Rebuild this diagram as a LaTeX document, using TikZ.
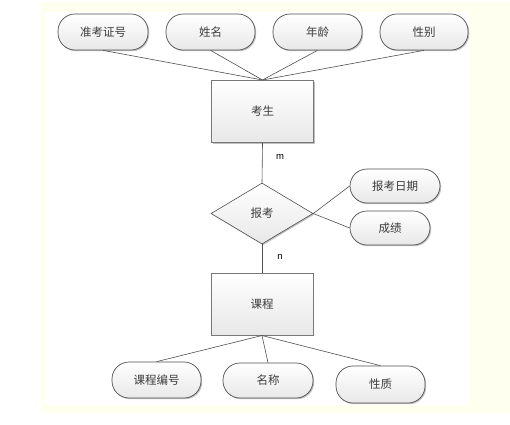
\documentclass[tikz,border=0pt]{standalone}
\usepackage{fontspec}
\newfontfamily\cjk{Noto Sans CJK SC}
\newfontfamily\lat{Liberation Sans}
\usetikzlibrary{shapes.geometric,shadows}
\definecolor{bgyel}{RGB}{255,255,240}
\definecolor{txt}{RGB}{60,60,60}
\definecolor{edge}{RGB}{80,80,80}
\definecolor{boxedge}{RGB}{120,120,120}
\tikzset{
  shp/.style={top color=white,bottom color=black!9,text=txt,font=\cjk\fontsize{11.5}{13}\selectfont,
    drop shadow={shadow xshift=1.2pt,shadow yshift=-1.2pt,opacity=0.25,fill=black},inner sep=0pt},
  attr/.style={shp,draw=edge,line width=0.7pt,rectangle,rounded corners=17pt,minimum height=35pt},
  ent/.style={shp,draw=boxedge,line width=1pt,rectangle,minimum width=102pt,minimum height=62pt},
  rel/.style={shp,draw=edge,line width=0.6pt,diamond,minimum width=102pt,minimum height=61pt,aspect=1.67},
  conn/.style={draw=edge,line width=0.6pt},
  card/.style={text=black,font=\lat\fontsize{9.5}{11}\selectfont,inner sep=0pt}
}
\begin{document}
\begin{tikzpicture}[x=1pt,y=-1pt]
\useasboundingbox (0,0) rectangle (510,424);
\fill[bgyel] (41,2) rectangle (510,413);
\fill[white] (45,12) rectangle (469,405);
% attributes top
\node[attr,minimum width=90pt,minimum height=36pt] (a1) at (103,32) {准考证号};
\node[attr,minimum width=89pt,minimum height=36pt] (a2) at (210.5,32) {姓名};
\node[attr,minimum width=89pt,minimum height=36pt] (a3) at (317.5,32) {年龄};
\node[attr,minimum width=88pt,minimum height=36pt] (a4) at (424,32) {性别};
% entities
\node[ent] (e1) at (262.5,111.5) {考生};
\node[rel] (r) at (262,213.5) {报考};
\node[ent] (e2) at (262,304) {课程};
% relation attributes
\node[attr,minimum width=90pt,minimum height=34pt] (b1) at (395,186) {报考日期};
\node[attr,minimum width=80pt,minimum height=34pt] (b2) at (390,228) {成绩};
% bottom attributes
\node[attr,minimum width=89pt,minimum height=36pt] (c1) at (156.5,380) {课程编号};
\node[attr,minimum width=90pt,minimum height=35pt] (c2) at (268,380.5) {名称};
\node[attr,minimum width=89pt,minimum height=37pt] (c3) at (380.5,384.5) {性质};
% connectors
\foreach \a in {a1,a2,a3,a4} \draw[conn] (\a.south) -- (e1.north);
\draw[conn] (e1.south) -- (r.north);
\draw[conn] (r.south) -- (e2.north);
\draw[conn] (r.east) -- (b1.west);
\draw[conn] (r.east) -- (b2.west);
\foreach \c in {c1,c2,c3} \draw[conn] (e2.south) -- (\c.north);
% cardinalities
\node[card] (m) at (280,157) {m};
\node[card] (n) at (280,257) {n};
\end{tikzpicture}
\end{document}
